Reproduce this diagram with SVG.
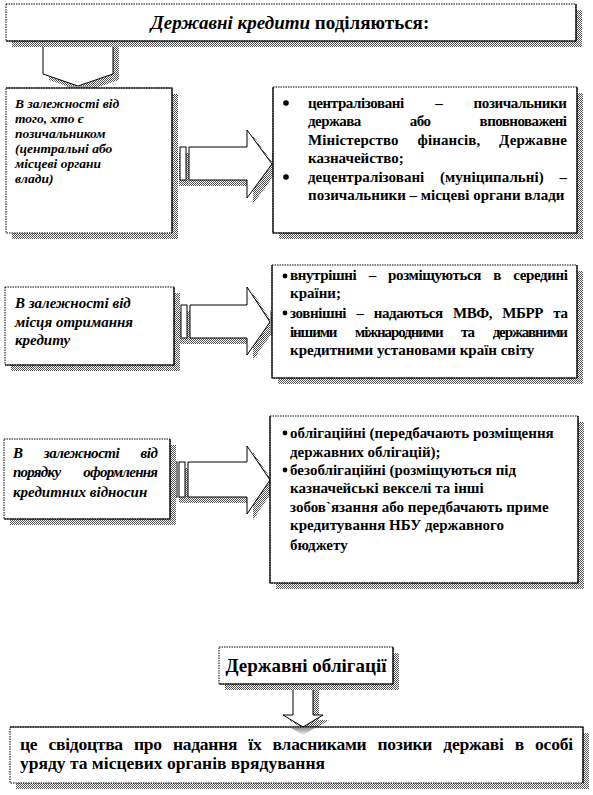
<svg xmlns="http://www.w3.org/2000/svg" width="593" height="795" viewBox="0 0 593 795">
<defs>
<pattern id="hatch" width="2" height="2" patternUnits="userSpaceOnUse">
<rect width="2" height="2" fill="#fff"/>
<rect x="0" y="0" width="1" height="1" fill="#555"/>
<rect x="1" y="1" width="1" height="1" fill="#555"/>
</pattern>
<linearGradient id="tipg" x1="0" y1="0" x2="1" y2="0">
<stop offset="0" stop-color="#999"/>
<stop offset="1" stop-color="#eee"/>
</linearGradient>
<linearGradient id="tipd" x1="0" y1="0" x2="0" y2="1">
<stop offset="0" stop-color="#999"/>
<stop offset="1" stop-color="#eee"/>
</linearGradient>
</defs>
<style>
.sh{fill:url(#hatch);stroke:none}
.bx{fill:#fff;stroke:#000;stroke-width:1;stroke-dasharray:1.5 1}
.ed{fill:none;stroke:#000;stroke-width:1.2}
.ar{fill:#fff;stroke:#000;stroke-width:1}
.t{font-family:"Liberation Serif","Times New Roman",serif;font-weight:bold;font-size:15px;fill:#000}
.i{font-style:italic}
.s{font-size:13.5px}
</style>
<rect width="593" height="795" fill="#fff"/>

<g id="connectors">
<polygon class="sh" points="49,42 119,42 119,80 84,92 49,80"/>
<polygon class="ar" points="43,41 113,41 113,74 78,86 43,74"/>
<polygon fill="url(#tipd)" points="65,86 91,86 78,92"/>
<g>
<polygon class="sh" points="179,153 253,153 253,136 278,170 253,204 253,186 179,186"/>
<rect class="ar" x="173" y="147" width="4" height="33"/>
<rect class="ar" x="180" y="147" width="6" height="33"/>
<polygon class="ar" points="189,147 247,147 247,130 272,164 247,198 247,180 189,180"/>
<polygon fill="url(#tipg)" points="272,152 280,164 272,176"/>
</g>
<g>
<polygon class="sh" points="180,311 253,311 253,293 276,328 253,360 253,344 180,344"/>
<rect class="ar" x="174" y="305" width="4" height="33"/>
<rect class="ar" x="181" y="305" width="6" height="33"/>
<polygon class="ar" points="190,305 247,305 247,287 270,322 247,355 247,338 190,338"/>
<polygon fill="url(#tipg)" points="270,310 278,322 270,334"/>
</g>
<g>
<polygon class="sh" points="179,468 253,468 253,452 276,486 253,520 253,503 179,503"/>
<rect class="ar" x="173" y="462" width="4" height="35"/>
<rect class="ar" x="179" y="462" width="6" height="35"/>
<polygon class="ar" points="188,462 247,462 247,446 270,480 247,514 247,497 188,497"/>
<polygon fill="url(#tipg)" points="270,468 278,480 270,492"/>
</g>
<g>
<polygon class="sh" points="299,684 319,684 319,720 329,720 309,733 289,720 299,720"/>
<polygon class="ar" points="293,684 313,684 313,715 323,715 303,727 283,715 293,715"/>
</g>
</g>

<g id="title">
<rect class="sh" x="12" y="10" width="570" height="37"/>
<rect class="bx" x="6" y="4" width="570" height="37"/>
<polyline class="ed" points="576,4 576,41 6,41"/>
<text class="t" x="290" y="29" text-anchor="middle" style="font-size:19px"><tspan font-style="italic">Державні кредити</tspan> поділяються:</text>
</g>

<g id="left1">
<rect class="sh" x="12" y="94" width="166" height="145"/>
<rect class="bx" x="6" y="88" width="166" height="145"/>
<polyline class="ed" points="6,88 172,88 172,233"/>
<text class="t i s" x="15" y="108">В залежності від</text>
<text class="t i s" x="15" y="123">того, хто є</text>
<text class="t i s" x="15" y="138">позичальником</text>
<text class="t i s" x="15" y="153">(центральні або</text>
<text class="t i s" x="15" y="168">місцеві органи</text>
<text class="t i s" x="15" y="183">влади)</text>
</g>

<g id="right1">
<rect class="sh" x="279" y="93" width="304" height="146"/>
<rect class="bx" x="273" y="87" width="304" height="146"/>
<polyline class="ed" points="273,87 273,233 577,233 577,87"/>
<circle cx="286" cy="103" r="2.8"/>
<circle cx="286" cy="177" r="2.8"/>
<text class="t" x="308" y="108" word-spacing="28" textLength="259">централізовані – позичальники</text>
<text class="t" x="308" y="126" word-spacing="46" textLength="259">держава або вповноважені</text>
<text class="t" x="308" y="145" word-spacing="15" textLength="259">Міністерство фінансів, Державне</text>
<text class="t" x="308" y="163">казначейство;</text>
<text class="t" x="308" y="182" word-spacing="12" textLength="259">децентралізовані (муніципальні) –</text>
<text class="t" x="308" y="200">позичальники – місцеві органи влади</text>
</g>

<g id="left2">
<rect class="sh" x="11" y="293" width="169" height="78"/>
<rect class="bx" x="5" y="287" width="169" height="78"/>
<polyline class="ed" points="174,287 174,365 5,365"/>
<text class="t i" x="15" y="308">В залежності від</text>
<text class="t i" x="15" y="327">місця отримання</text>
<text class="t i" x="15" y="345">кредиту</text>
</g>

<g id="right2">
<rect class="sh" x="278" y="271" width="305" height="113"/>
<rect class="bx" x="272" y="265" width="305" height="113"/>
<polyline class="ed" points="272,265 272,378 577,378 577,265"/>
<circle cx="285" cy="276" r="2.4"/>
<circle cx="285" cy="313" r="2.4"/>
<text class="t" x="290" y="280" word-spacing="9" textLength="278">внутрішні – розміщуються в середині</text>
<text class="t" x="290" y="298">країни;</text>
<text class="t" x="290" y="318" word-spacing="7" textLength="278">зовнішні – надаються МВФ, МБРР та</text>
<text class="t" x="290" y="337" word-spacing="16" textLength="278">іншими міжнародними та державними</text>
<text class="t" x="290" y="355">кредитними установами країн світу</text>
</g>

<g id="left3">
<rect class="sh" x="10" y="445" width="166" height="80"/>
<rect class="bx" x="4" y="439" width="166" height="80"/>
<polyline class="ed" points="170,439 170,519 4,519"/>
<text class="t i" x="13" y="458" word-spacing="18" textLength="145">В залежності від</text>
<text class="t i" x="13" y="477" word-spacing="20" textLength="145">порядку оформлення</text>
<text class="t i" x="13" y="497">кредитних відносин</text>
</g>

<g id="right3">
<rect class="sh" x="276" y="422" width="308" height="167"/>
<rect class="bx" x="270" y="416" width="308" height="167"/>
<polyline class="ed" points="270,416 270,583 578,583 578,416"/>
<circle cx="285" cy="433" r="2.4"/>
<circle cx="285" cy="470" r="2.4"/>
<text class="t" x="290" y="438">облігаційні (передбачають розміщення</text>
<text class="t" x="290" y="457">державних облігацій);</text>
<text class="t" x="290" y="475">безоблігаційні (розміщуються  під</text>
<text class="t" x="290" y="493">казначейські векселі та інші</text>
<text class="t" x="290" y="512">зобов`язання або передбачають приме</text>
<text class="t" x="290" y="530">кредитування НБУ державного</text>
<text class="t" x="290" y="550">бюджету</text>
</g>

<g id="bonds">
<rect class="sh" x="225" y="653" width="174" height="37"/>
<rect class="bx" x="219" y="647" width="174" height="37"/>
<polyline class="ed" points="393,647 393,684 219,684"/>
<text class="t" x="306" y="672" text-anchor="middle" style="font-size:19px">Державні облігації</text>
</g>

<g id="definition">
<rect class="sh" x="16" y="733" width="573" height="56"/>
<rect class="bx" x="10" y="727" width="573" height="56"/>
<polyline class="ed" points="10,727 583,727 583,783"/>
<polygon fill="url(#tipd)" points="291,728 315,728 303,735"/>
<text class="t" x="20" y="750" style="font-size:17.5px" word-spacing="7" textLength="553">це свідоцтва про надання їх власниками позики державі в особі</text>
<text class="t" x="20" y="769" style="font-size:17.5px">уряду та місцевих органів врядування</text>
</g>
</svg>
